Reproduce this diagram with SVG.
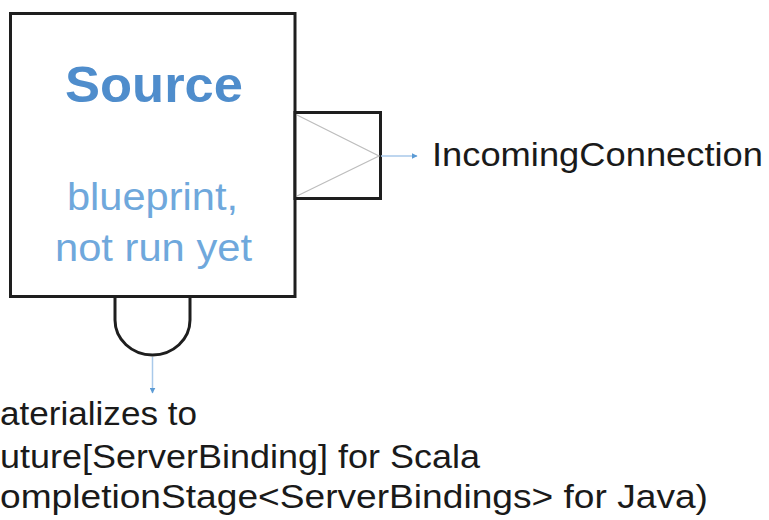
<svg xmlns="http://www.w3.org/2000/svg" width="769" height="520" viewBox="0 0 769 520">
  <defs>
    <marker id="arr" viewBox="0 0 10 10" refX="9" refY="5" markerWidth="6" markerHeight="6" markerUnits="userSpaceOnUse" orient="auto">
      <path d="M0,0 L10,5 L0,10 z" fill="#5b9bd5"/>
    </marker>
    <style>
      .box { fill: #ffffff; stroke: #1e1e1e; stroke-width: 3; }
      .diag { stroke: #bdbdbd; stroke-width: 1.2; fill: none; }
      .conn { stroke: #a9c9ea; stroke-width: 1.5; fill: none; marker-end: url(#arr); }
      .lbl { font-family: "Liberation Sans", Arial, sans-serif; font-size: 33px; fill: #1a1a1a; }
      .title { font-family: "Liberation Sans", Arial, sans-serif; font-weight: bold; font-size: 50px; fill: #4f8dcc; }
      .sub { font-family: "Liberation Sans", Arial, sans-serif; font-size: 38px; fill: #6fa8dc; }
    </style>
  </defs>
  <rect width="769" height="520" fill="#ffffff"/>

  <g id="source">
    <rect class="box" x="10.5" y="13.5" width="284.5" height="283"/>
    <text class="title" x="154" y="102" text-anchor="middle" textLength="178" lengthAdjust="spacingAndGlyphs">Source</text>
    <text class="sub" x="152.5" y="210" text-anchor="middle" textLength="171" lengthAdjust="spacingAndGlyphs">blueprint,</text>
    <text class="sub" x="153.5" y="261" text-anchor="middle" textLength="197" lengthAdjust="spacingAndGlyphs">not run yet</text>
  </g>

  <g id="outlet">
    <rect class="box" x="295" y="112.5" width="85.5" height="86"/>
    <path class="diag" d="M297,115 L379,156 L297,196"/>
  </g>

  <g id="materialized-port">
    <path d="M115,298 L115,320 A37.5,35 0 0 0 190,320 L190,298" fill="none" stroke="#1e1e1e" stroke-width="3"/>
  </g>

  <g id="connectors">
    <path class="conn" d="M381,156 L417,156"/>
    <path class="conn" d="M152.5,357 L152.5,393"/>
  </g>

  <g id="incoming-label">
    <text class="lbl" x="432" y="166" textLength="331" lengthAdjust="spacingAndGlyphs">IncomingConnection</text>
  </g>

  <g id="materializes-label">
    <text class="lbl" x="0" y="425" textLength="197" lengthAdjust="spacingAndGlyphs">aterializes to</text>
    <text class="lbl" x="0" y="468" textLength="480" lengthAdjust="spacingAndGlyphs">uture[ServerBinding] for Scala</text>
    <text class="lbl" x="0" y="508" textLength="708" lengthAdjust="spacingAndGlyphs">ompletionStage&lt;ServerBindings&gt; for Java)</text>
  </g>
</svg>
